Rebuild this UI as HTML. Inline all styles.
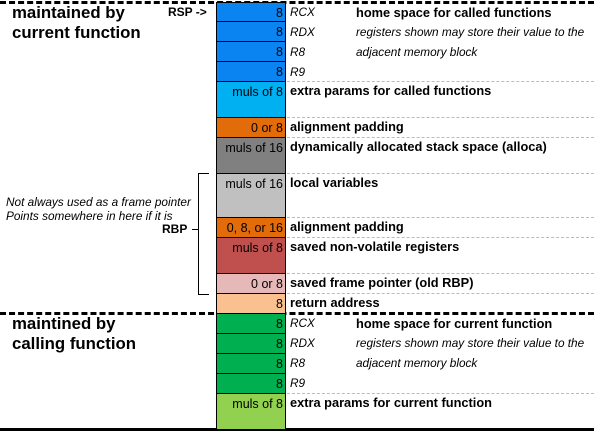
<!DOCTYPE html>
<html><head><meta charset="utf-8"><style>
body{margin:0;width:594px;height:431px;position:relative;background:#fff;font-family:"Liberation Sans",sans-serif;overflow:hidden}
.a{position:absolute}
.cell{position:absolute;left:216px;width:70px;border:1px solid #000;box-sizing:border-box;text-align:right;font-size:12.5px;padding:2px 2px 0 0;line-height:17px;color:#000}
.lab{position:absolute;left:290px;font-size:12.8px;font-weight:bold;line-height:18px;white-space:nowrap}
.it{font-style:italic;font-size:11.8px;white-space:nowrap;line-height:14px}
.gd{position:absolute;left:287px;width:307px;border-top:1px dashed #bbb}
.bd{position:absolute;left:0;width:594px;border-top:3px dashed #000}
.h{position:absolute;left:12px;font-weight:bold;font-size:16.8px;line-height:20px}
</style></head><body>
<div class="bd" style="top:1px"></div>
<div class="bd" style="top:312px"></div>
<div class="a" style="left:0;top:428px;width:594px;height:3px;background:#000"></div>
<div class="h" style="top:3px">maintained by<br>current function</div>
<div class="h" style="top:314px">maintined by<br>calling function</div>
<div class="a" style="left:168px;top:5px;font-size:12px;font-weight:bold">RSP -&gt;</div>
<div class="a it" style="left:6px;top:195px;font-size:11.8px">Not always used as a frame pointer<br>Points somewhere in here if it is</div>
<div class="a" style="left:162px;top:222px;font-size:12px;font-weight:bold">RBP</div>
<div class="a" style="left:198px;top:173px;width:10px;height:120px;border:1px solid #000;border-right:none"></div>
<div class="a" style="left:192px;top:229px;width:6px;border-top:1px solid #000"></div>
<div id="stack"></div>
<div class="a it" style="left:290px;top:5px">RCX</div>
<div class="a it" style="left:290px;top:25px">RDX</div>
<div class="a it" style="left:290px;top:45px">R8</div>
<div class="a it" style="left:290px;top:65px">R9</div>
<div class="lab" style="left:356px;top:4px">home space for called functions</div>
<div class="a it" style="left:356px;top:25px">registers shown may store their value to the<br><span style="line-height:26px">adjacent memory block</span></div>
<div class="a it" style="left:290px;top:316px">RCX</div>
<div class="a it" style="left:290px;top:336px">RDX</div>
<div class="a it" style="left:290px;top:356px">R8</div>
<div class="a it" style="left:290px;top:376px">R9</div>
<div class="lab" style="left:356px;top:315px">home space for current function</div>
<div class="a it" style="left:356px;top:336px">registers shown may store their value to the<br><span style="line-height:26px">adjacent memory block</span></div>
<script>
const tops=[2,21,41,61,81,117,137,173,217,237,273,293,313,333,353,373,393];
const bots=[21,41,61,81,117,137,173,217,237,273,293,313,333,353,373,393,429];
const colors=["#0a84f0","#0a84f0","#0a84f0","#0a84f0","#00b0f0","#e36c0a","#808080","#c0c0c0","#e36c0a","#c0504d","#e6b9b8","#fac090","#00b050","#00b050","#00b050","#00b050","#92d050"];
const sizes=["8","8","8","8","muls of 8","0 or 8","muls of 16","muls of 16","0, 8, or 16","muls of 8","0 or 8","8","8","8","8","8","muls of 8"];
const labels=["","","","","extra params for called functions","alignment padding","dynamically allocated stack space (alloca)","local variables","alignment padding","saved non-volatile registers","saved frame pointer (old RBP)","return address","","","","","extra params for current function"];
const dashes=[81,117,137,173,217,237,273,293,393];
const st=document.getElementById('stack');
for(let i=0;i<tops.length;i++){
 const c=document.createElement('div');c.className='cell';
 
 
 c.style.top=tops[i]+'px';c.style.height=(bots[i]-tops[i]+1)+'px';c.style.background=colors[i];c.textContent=sizes[i];
 st.appendChild(c);
 if(labels[i]){const l=document.createElement('div');l.className='lab';
 
 
 l.style.top=(tops[i]+1)+'px';l.textContent=labels[i];st.appendChild(l);}
}
dashes.forEach(y=>{const d=document.createElement('div');d.className='gd';
 
 
 d.style.top=y+'px';st.appendChild(d);});
</script>
</body></html>
